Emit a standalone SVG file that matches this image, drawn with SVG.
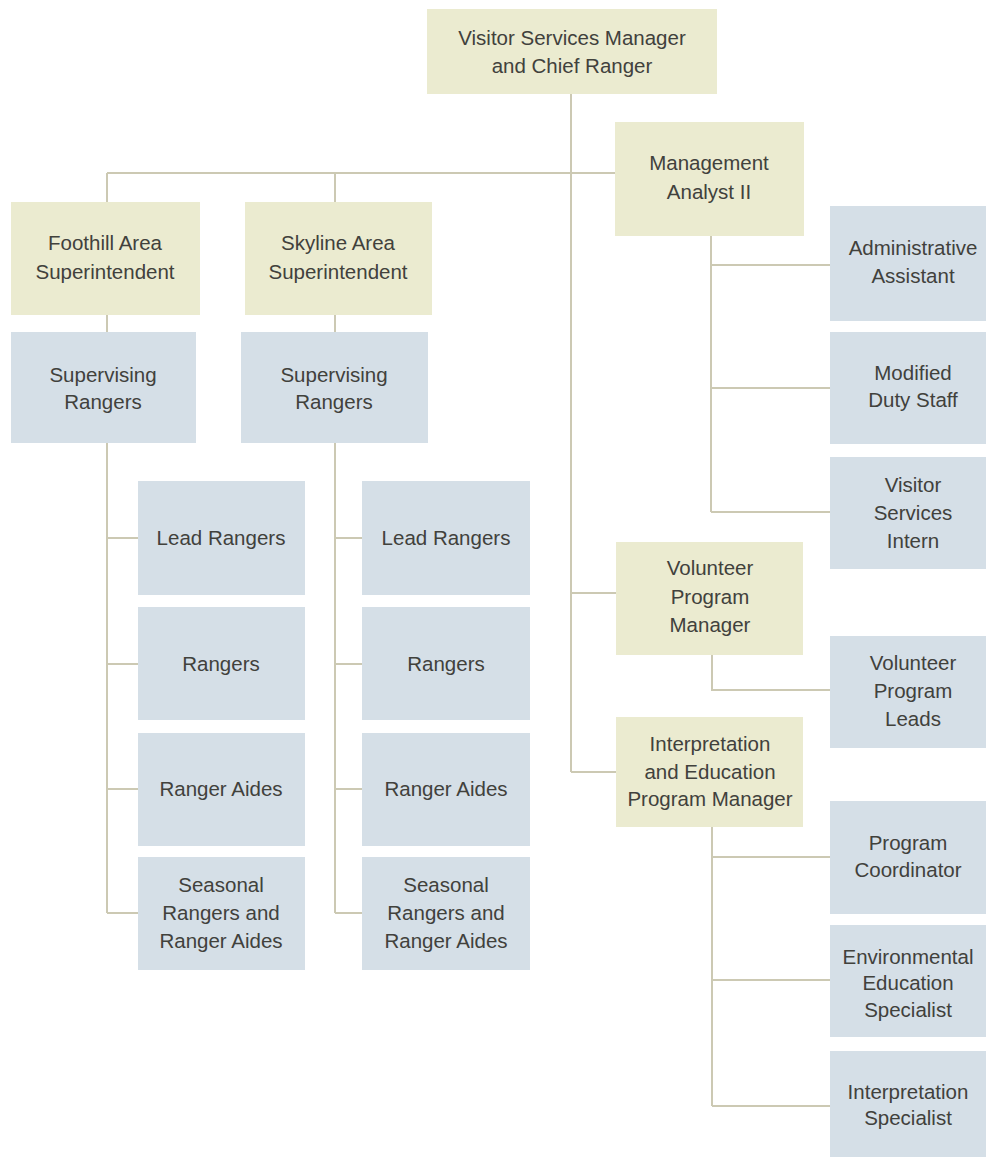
<svg xmlns="http://www.w3.org/2000/svg" width="986" height="1157" viewBox="0 0 986 1157">
<style>
.k{fill:#ebebd0}
.b{fill:#d5dfe7}
.t{font-family:"Liberation Sans",Arial,sans-serif;font-size:20.5px;fill:#41413c;text-anchor:middle}
.c{stroke:#ccc9b3;stroke-width:2;fill:none}
</style>
<rect width="986" height="1157" fill="#ffffff"/>
<g id="connectors" class="c">
<path d="M571 94V772M107 173H615M107 173V202M335 173V202M107 315V332M335 315V332"/>
<path d="M107 443V913M107 538H138M107 664H138M107 789H138M107 913H138"/>
<path d="M335 443V913M335 538H362M335 664H362M335 789H362M335 913H362"/>
<path d="M711 236V512M711 265H830M711 388H830M711 512H830"/>
<path d="M571 593H616M571 772H616M712 655V690H830"/>
<path d="M712 827V1106M712 857H830M712 980H830M712 1106H830"/>
</g>
<g id="n-top"><rect class="k" x="427" y="9" width="290" height="85"/><text class="t" x="572" y="45">Visitor Services Manager</text><text class="t" x="572" y="73">and Chief Ranger</text></g>
<g id="n-ma"><rect class="k" x="615" y="122" width="189" height="114"/><text class="t" x="709" y="170">Management</text><text class="t" x="709" y="199">Analyst II</text></g>
<g id="n-foothill"><rect class="k" x="11" y="202" width="189" height="113"/><text class="t" x="105" y="250">Foothill Area</text><text class="t" x="105" y="279">Superintendent</text></g>
<g id="n-skyline"><rect class="k" x="245" y="202" width="187" height="113"/><text class="t" x="338" y="250">Skyline Area</text><text class="t" x="338" y="279">Superintendent</text></g>
<g id="n-sr1"><rect class="b" x="11" y="332" width="185" height="111"/><text class="t" x="103" y="382">Supervising</text><text class="t" x="103" y="409">Rangers</text></g>
<g id="n-sr2"><rect class="b" x="241" y="332" width="187" height="111"/><text class="t" x="334" y="382">Supervising</text><text class="t" x="334" y="409">Rangers</text></g>
<g id="n-lr1"><rect class="b" x="138" y="481" width="167" height="114"/><text class="t" x="221" y="545">Lead Rangers</text></g>
<g id="n-r1"><rect class="b" x="138" y="607" width="167" height="113"/><text class="t" x="221" y="671">Rangers</text></g>
<g id="n-ra1"><rect class="b" x="138" y="733" width="167" height="113"/><text class="t" x="221" y="796">Ranger Aides</text></g>
<g id="n-s1"><rect class="b" x="138" y="857" width="167" height="113"/><text class="t" x="221" y="892">Seasonal</text><text class="t" x="221" y="920">Rangers and</text><text class="t" x="221" y="948">Ranger Aides</text></g>
<g id="n-lr2"><rect class="b" x="362" y="481" width="168" height="114"/><text class="t" x="446" y="545">Lead Rangers</text></g>
<g id="n-r2"><rect class="b" x="362" y="607" width="168" height="113"/><text class="t" x="446" y="671">Rangers</text></g>
<g id="n-ra2"><rect class="b" x="362" y="733" width="168" height="113"/><text class="t" x="446" y="796">Ranger Aides</text></g>
<g id="n-s2"><rect class="b" x="362" y="857" width="168" height="113"/><text class="t" x="446" y="892">Seasonal</text><text class="t" x="446" y="920">Rangers and</text><text class="t" x="446" y="948">Ranger Aides</text></g>
<g id="n-aa"><rect class="b" x="830" y="206" width="160" height="115"/><text class="t" x="913" y="255">Administrative</text><text class="t" x="913" y="283">Assistant</text></g>
<g id="n-md"><rect class="b" x="830" y="332" width="160" height="112"/><text class="t" x="913" y="380">Modified</text><text class="t" x="913" y="407">Duty Staff</text></g>
<g id="n-vsi"><rect class="b" x="830" y="457" width="160" height="112"/><text class="t" x="913" y="492">Visitor</text><text class="t" x="913" y="520">Services</text><text class="t" x="913" y="548">Intern</text></g>
<g id="n-vpm"><rect class="k" x="616" y="542" width="187" height="113"/><text class="t" x="710" y="575">Volunteer</text><text class="t" x="710" y="604">Program</text><text class="t" x="710" y="632">Manager</text></g>
<g id="n-vpl"><rect class="b" x="830" y="636" width="160" height="112"/><text class="t" x="913" y="670">Volunteer</text><text class="t" x="913" y="698">Program</text><text class="t" x="913" y="726">Leads</text></g>
<g id="n-iepm"><rect class="k" x="616" y="717" width="187" height="110"/><text class="t" x="710" y="751">Interpretation</text><text class="t" x="710" y="779">and Education</text><text class="t" x="710" y="806">Program Manager</text></g>
<g id="n-pc"><rect class="b" x="830" y="801" width="160" height="113"/><text class="t" x="908" y="850">Program</text><text class="t" x="908" y="877">Coordinator</text></g>
<g id="n-ees"><rect class="b" x="830" y="925" width="160" height="112"/><text class="t" x="908" y="964">Environmental</text><text class="t" x="908" y="990">Education</text><text class="t" x="908" y="1017">Specialist</text></g>
<g id="n-is"><rect class="b" x="830" y="1051" width="160" height="110"/><text class="t" x="908" y="1099">Interpretation</text><text class="t" x="908" y="1125">Specialist</text></g>
</svg>
